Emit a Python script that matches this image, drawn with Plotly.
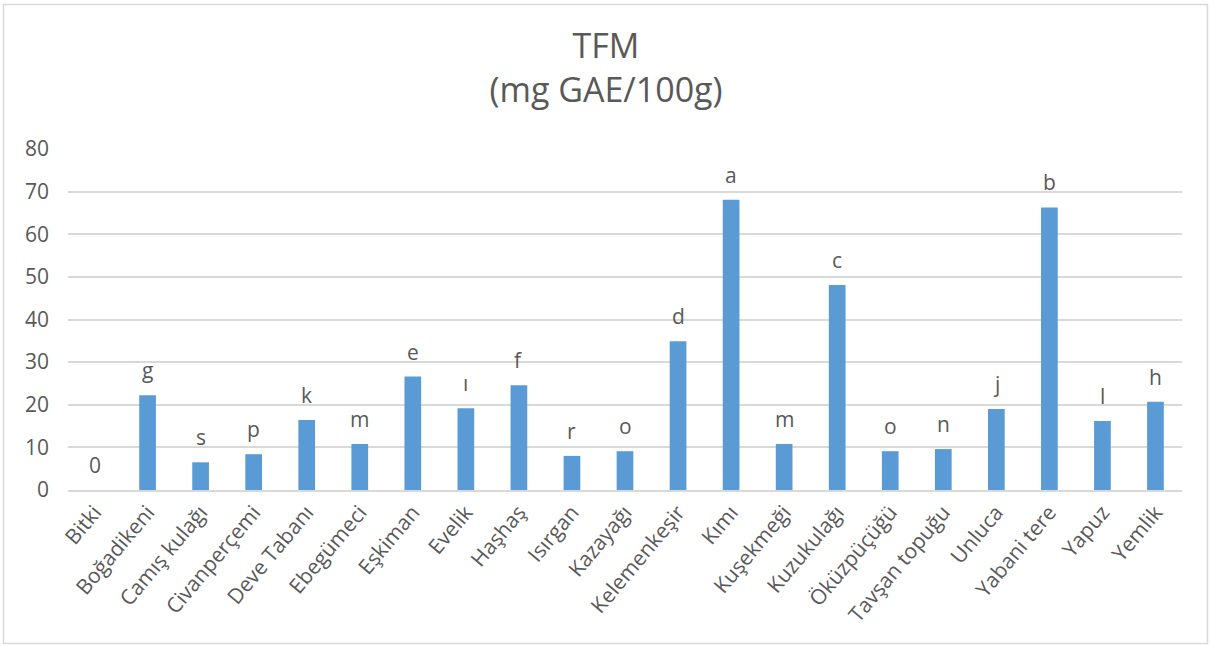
import plotly.graph_objects as go

# Plant species (Turkish names), total phenolic content and significance letters
plants = ["Bitki", "Boğadikeni", "Camış kulağı", "Civanperçemi", "Deve Tabanı",
          "Ebegümeci", "Eşkiman", "Evelik", "Haşhaş", "Isırgan", "Kazayağı",
          "Kelemenkeşir", "Kımı", "Kuşekmeği", "Kuzukulağı", "Öküzpüçüğü",
          "Tavşan topuğu", "Unluca", "Yabani tere", "Yapuz", "Yemlik"]
tfm = [0, 22.2, 6.5, 8.4, 16.4, 10.8, 26.6, 19.2, 24.6, 8.0, 9.1,
       34.9, 68.1, 10.8, 48.1, 9.1, 9.6, 19.0, 66.3, 16.2, 20.7]
letters = ["0", "g", "s", "p", "k", "m", "e", "ı", "f", "r", "o",
           "d", "a", "m", "c", "o", "n", "j", "b", "l", "h"]
y_ticks = [0, 10, 20, 30, 40, 50, 60, 70, 80]

W, H = 1212, 646
M = dict(l=68, r=30, t=149, b=156)
TXT = "#595959"
FONT = "Open Sans"

fig = go.Figure(go.Bar(
    x=plants, y=tfm,
    marker=dict(color="#5b9bd5", line=dict(width=0)),
    width=0.315,
    hoverinfo="x+y",
))

for p, v, t in zip(plants, tfm, letters):
    fig.add_annotation(x=p, y=v, text=t, showarrow=False,
                       yanchor="bottom", yshift=9,
                       font=dict(family=FONT, size=21, color=TXT))

# Chart-area border around the whole figure
pw = W - M["l"] - M["r"]
ph = H - M["t"] - M["b"]
fig.add_shape(type="rect", xref="paper", yref="paper",
              x0=(3.5 - M["l"]) / pw, x1=(W - 4.5 - M["l"]) / pw,
              y0=-(H - 2.5 - M["t"] - ph) / ph, y1=(M["t"] + ph - 4.5) / ph,
              line=dict(color="#d9d9d9", width=1.5), layer="below")

fig.update_layout(
    width=W, height=H, margin=M,
    paper_bgcolor="white", plot_bgcolor="white",
    showlegend=False,
    font=dict(family=FONT, color=TXT),
    title=dict(text="TFM<br>(mg GAE/100g)", x=0.5, xref="container",
               xanchor="center", y=1 - 58 / H, yref="container", yanchor="top",
               font=dict(family=FONT, size=34, color=TXT)),
    xaxis=dict(tickangle=-50, tickfont=dict(size=21, color=TXT),
               showgrid=False, showline=True, linecolor="#d9d9d9", linewidth=1.5,
               ticks="", automargin=False, range=[-0.5, len(plants) - 0.5]),
    yaxis=dict(range=[0, 80], tickvals=y_ticks, tickfont=dict(size=21, color=TXT),
               showgrid=True, gridcolor="#d9d9d9", gridwidth=1.5,
               zeroline=False, showline=False, ticks="", ticklabelstandoff=18),
)

fig.write_html("out.html")
